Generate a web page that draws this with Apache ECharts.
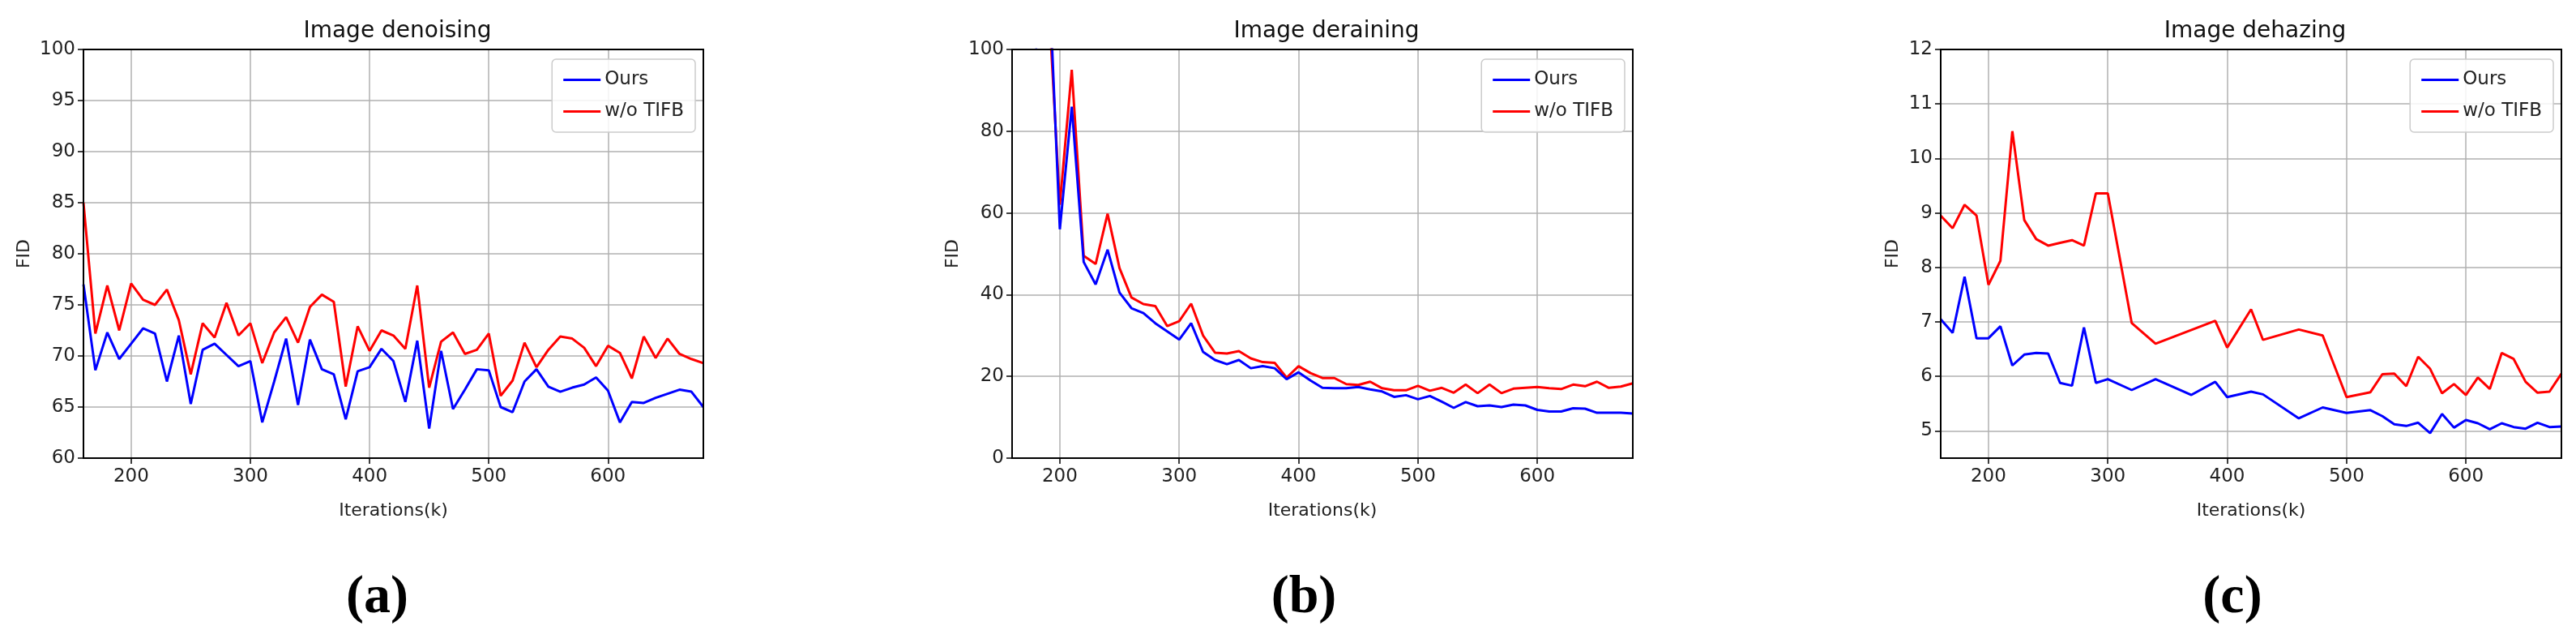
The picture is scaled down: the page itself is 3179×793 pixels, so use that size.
<!DOCTYPE html>
<html><head><meta charset="utf-8">
<script src="https://cdn.jsdelivr.net/npm/echarts@6/dist/echarts.min.js"></script>
<style>html,body{margin:0;padding:0;background:#fff}#c{width:3179px;height:793px}</style>
</head><body><div id="c"></div>
<script>
const titles = ['Image denoising','Image deraining','Image dehazing'];
const panelLabels = ['(a)','(b)','(c)'];
const seriesNames = ['Ours','w/o TIFB'];
const xTicks = [200,300,400,500,600];
const yTicksA = [60,65,70,75,80,85,90,95,100];
const yTicksB = [0,20,40,60,80,100];
const yTicksC = [5,6,7,8,9,10,11,12];

const aX = [160,170,180,190,200,210,220,230,240,250,260,270,280,290,300,310,320,330,340,350,360,370,380,390,400,410,420,430,440,450,460,470,480,490,500,510,520,530,540,550,560,570,580,590,600,610,620,630,640,650,660,670,680];
const aOurs = [77,68.6,72.3,69.7,71.2,72.7,72.2,67.5,72,65.3,70.6,71.2,70.1,69,69.5,63.5,67.5,71.7,65.2,71.6,68.7,68.2,63.8,68.5,68.9,70.7,69.5,65.5,71.5,62.9,70.5,64.8,66.7,68.7,68.6,65,64.5,67.5,68.7,67,66.5,66.9,67.2,67.9,66.6,63.5,65.5,65.4,65.9,66.3,66.7,66.5,65];
const aTifb = [85,72.2,76.9,72.5,77.1,75.5,75,76.5,73.5,68.2,73.2,71.8,75.2,72,73.2,69.3,72.3,73.8,71.3,74.8,76,75.3,67,72.9,70.5,72.5,72,70.7,76.9,66.9,71.4,72.3,70.2,70.6,72.2,66.1,67.6,71.3,68.9,70.6,71.9,71.7,70.8,69,71,70.3,67.8,71.9,69.8,71.7,70.2,69.7,69.3];

const bX = [180,190,200,210,220,230,240,250,260,270,280,290,300,310,320,330,340,350,360,370,380,390,400,410,420,430,440,450,460,470,480,490,500,510,520,530,540,550,560,570,580,590,600,610,620,630,640,650,660,670,680];
const bOurs = [100.3,125,56,86,48,42.5,51,40.5,36.7,35.5,33,31,29,33,26,24,23,24,22,22.5,22,19.3,21,19,17.2,17.1,17.1,17.4,16.8,16.3,15,15.4,14.4,15.2,13.8,12.3,13.7,12.7,12.9,12.5,13.1,12.9,11.8,11.4,11.4,12.2,12.1,11.1,11.1,11.1,10.9];
const bTifb = [130,115,62,95,49.5,47.5,59.8,46.5,39.3,37.7,37.2,32.3,33.5,37.8,30,25.8,25.6,26.2,24.4,23.5,23.3,19.7,22.5,20.8,19.6,19.6,18.1,17.9,18.7,17.1,16.6,16.6,17.7,16.5,17.2,16,18,15.9,18,15.9,17,17.2,17.4,17.1,16.9,18,17.6,18.7,17.2,17.5,18.3];

const cOursX = [160,170,180,190,200,210,220,230,240,250,260,270,280,290,300,320,340,370,390,400,420,430,460,480,500,520,530,540,550,560,570,580,590,600,610,620,630,640,650,660,670,680];
const cOurs = [7.05,6.8,7.83,6.7,6.7,6.92,6.2,6.4,6.43,6.42,5.88,5.83,6.9,5.88,5.95,5.75,5.95,5.66,5.9,5.62,5.72,5.67,5.23,5.43,5.33,5.38,5.27,5.12,5.09,5.15,4.96,5.31,5.06,5.2,5.14,5.03,5.14,5.07,5.04,5.15,5.07,5.08];
const cTifbX = [160,170,180,190,200,210,220,230,240,250,260,270,280,290,300,320,340,390,400,420,430,460,480,500,520,530,540,550,560,570,580,590,600,610,620,630,640,650,660,670,680];
const cTifb = [8.95,8.72,9.15,8.95,7.68,8.12,10.5,8.87,8.52,8.4,8.45,8.5,8.4,9.36,9.36,6.98,6.6,7.02,6.53,7.23,6.67,6.86,6.75,5.62,5.71,6.04,6.05,5.82,6.36,6.14,5.69,5.86,5.66,5.98,5.77,6.43,6.32,5.9,5.7,5.72,6.05];

const zip = (xs, ys) => xs.map((x,i)=>[x,ys[i]]);
const F = 'DejaVu Sans';
const panels = [
  {left:103, right:868, ymin:60, ymax:100, ticks:yTicksA, d:[zip(aX,aOurs),zip(aX,aTifb)], gap:62},
  {left:1249, right:2015, ymin:0, ymax:100, ticks:yTicksB, d:[zip(bX,bOurs),zip(bX,bTifb)], gap:62},
  {left:2395, right:3161, ymin:4.5, ymax:12, ticks:yTicksC, d:[zip(cOursX,cOurs),zip(cTifbX,cTifb)], gap:48}
];
const colors = ['#0000ff','#ff0000'];
const gridStyle = {color:'#b0b0b0', width:1.5, type:'solid'};
const grid=[],xAxis=[],yAxis=[],series=[],title=[],legend=[];
panels.forEach((p,i)=>{
  grid.push({left:p.left, width:p.right-p.left, top:61, height:504, show:true, borderColor:'#000', borderWidth:2, backgroundColor:'transparent', z:5});
  xAxis.push({type:'value', gridIndex:i, min:160, max:680,
    name:'Iterations(k)', nameLocation:'middle', nameGap:54, nameTextStyle:{fontFamily:F,fontSize:22,color:'#222'},
    axisLine:{show:false},
    axisTick:{show:true, length:7, customValues:xTicks, lineStyle:{color:'#000',width:1.5}},
    axisLabel:{fontFamily:F,fontSize:23,color:'#222',margin:12, customValues:xTicks},
    splitLine:{show:false}});
  yAxis.push({type:'value', gridIndex:i, min:p.ymin, max:p.ymax,
    name:'FID', nameLocation:'middle', nameGap:p.gap, nameRotate:90, nameTextStyle:{fontFamily:F,fontSize:22,color:'#222'},
    axisLine:{show:false},
    axisTick:{show:true,length:7,customValues:p.ticks,lineStyle:{color:'#000',width:1.5}},
    axisLabel:{fontFamily:F,fontSize:23,color:'#222',margin:10, customValues:p.ticks},
    splitLine:{show:false}});
  seriesNames.forEach((n,k)=>{
    const s = {name:n, type:'line', xAxisIndex:i, yAxisIndex:i, data:p.d[k],
      showSymbol:false, symbol:'none', clip:true, lineStyle:{color:colors[k],width:3}, itemStyle:{color:colors[k]}, z:k===0?3:2};
    if (k===1) s.markLine = {silent:true, symbol:'none', label:{show:false}, lineStyle:gridStyle, z:1, animation:false,
      data: xTicks.map(v=>({xAxis:v})).concat(p.ticks.filter(v=>v>p.ymin && v<p.ymax).map(v=>({yAxis:v})))};
    series.push(s);
  });
  const cx = (p.left+p.right)/2;
  title.push({text:titles[i], left:cx, top:20, textAlign:'center', textStyle:{fontFamily:F,fontSize:28,fontWeight:'normal',color:'#111'}});
  title.push({text:panelLabels[i], left:cx+(i===0?-25:-28), top:700, textAlign:'center', textStyle:{fontFamily:'Liberation Serif',fontSize:66,fontWeight:'bold',color:'#000'}});
  legend.push({data:seriesNames, orient:'vertical', right:3179-p.right+10, top:73, itemWidth:46, itemHeight:3, itemGap:16,
    padding:[14,14,14,14], borderColor:'#ccc', borderWidth:1.5, borderRadius:5, backgroundColor:'rgba(255,255,255,0.85)',
    textStyle:{fontFamily:F,fontSize:23,color:'#222'}, icon:'rect'});
});
const chart = echarts.init(document.getElementById('c'));
chart.setOption({animation:false, backgroundColor:'#fff', grid, xAxis, yAxis, series, title, legend});
</script></body></html>
